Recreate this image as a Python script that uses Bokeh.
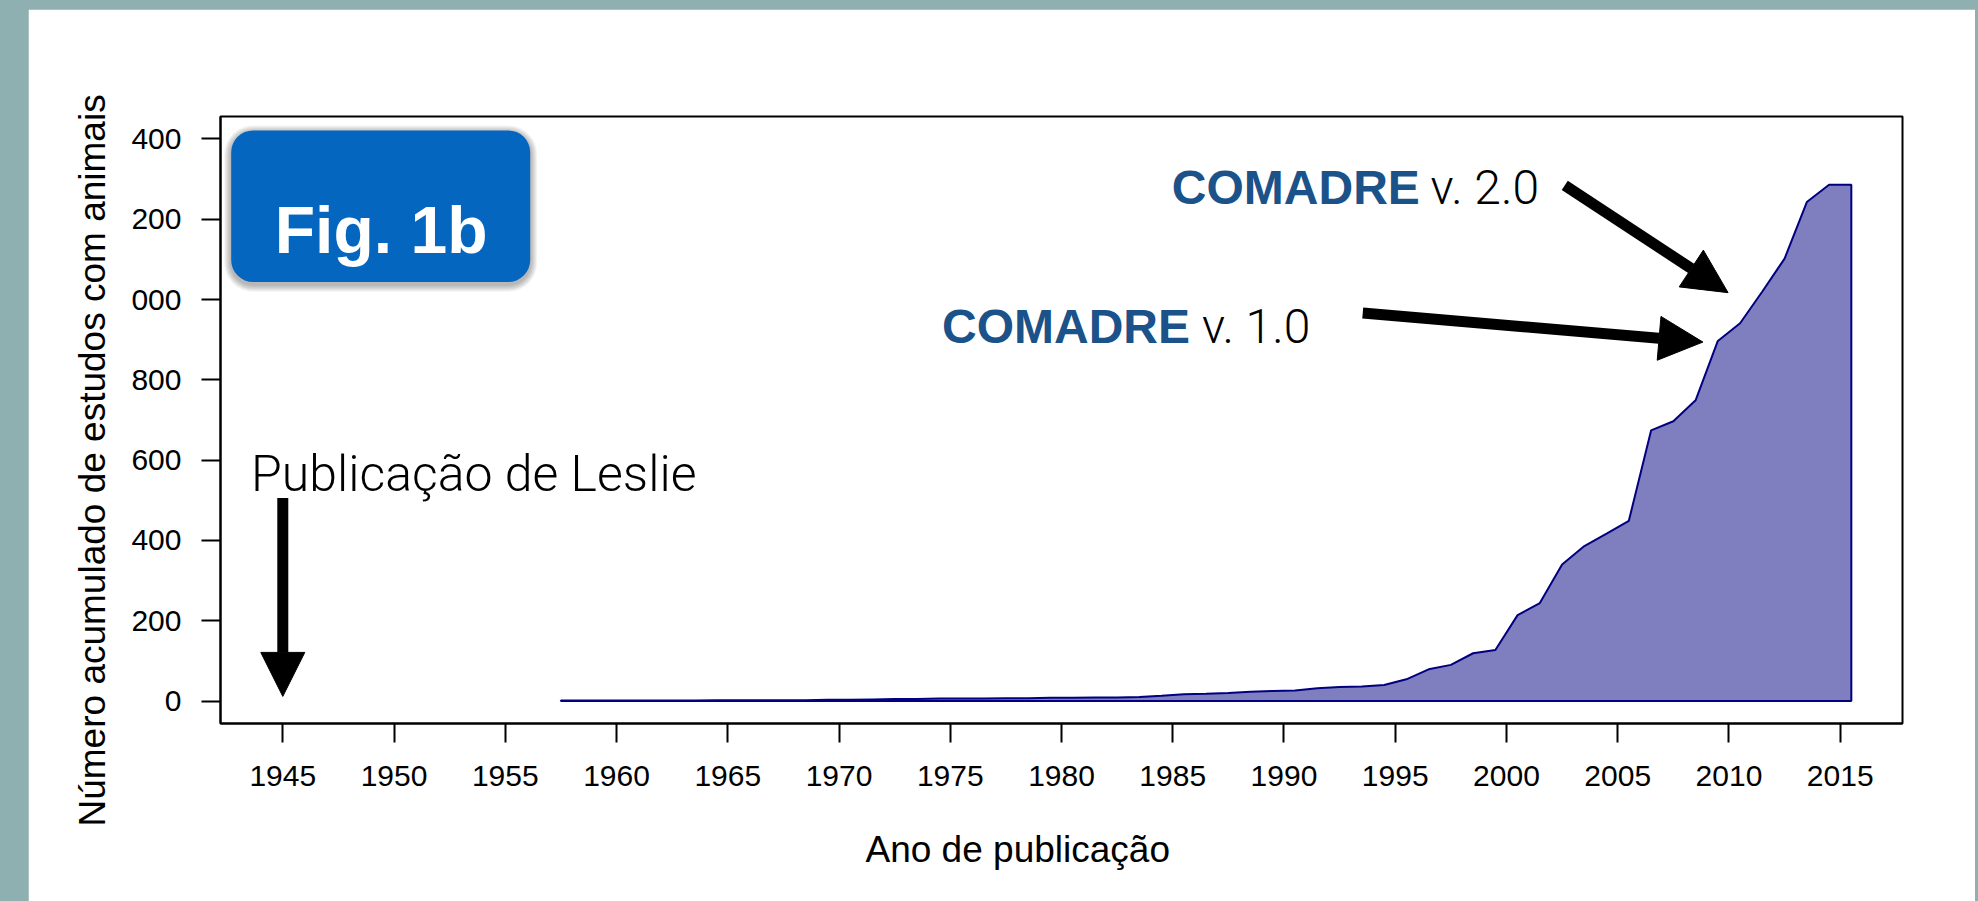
from math import pi
from bokeh.plotting import figure
from bokeh.models import (Label, Arrow, NormalHead, BoxAnnotation, Range1d, FixedTicker,
                          Title, Spacer)
from bokeh.layouts import row, column
from bokeh.embed import file_html
from bokeh.resources import INLINE

# ---- data: cumulative number of animal studies, by publication year ----
years = list(range(1957, 2016))
cumulative = [1, 1, 1, 1, 1, 1, 1, 2, 2, 2, 2, 2, 3, 3, 4, 5, 5, 6, 6, 6, 7, 7, 8, 8, 9, 9, 10,
              13, 17, 18, 20, 23, 25, 26, 32, 35, 36, 40, 54, 79, 90, 119, 127, 214, 244,
              340, 386, 417, 449, 674, 697, 749, 897, 941, 1020, 1102, 1243, 1286, 1286]
x_ticks = list(range(1945, 2016, 5))
y_ticks = [0, 200, 400, 600, 800, 1000, 1200, 1400]
y_tick_text = {1000: "000", 1200: "200", 1400: "400"}   # leading "1" cut off in the original

FONT = "Liberation Sans"
LIGHT = "Roboto Light"
PAGE_GREY = "#8EB0B0"

p = figure(frame_width=1682, frame_height=607, output_backend="svg", toolbar_location=None,
           title=None, x_range=Range1d(1942.2, 2017.8), y_range=Range1d(-56, 1456),
           min_border_left=192, min_border_right=73, min_border_top=107, min_border_bottom=178)
p.background_fill_color = "white"
p.border_fill_color = "white"
p.outline_line_color = "black"
p.outline_line_width = 2
p.grid.visible = False

for ax in (p.xaxis, p.yaxis):
    ax.axis_line_color = "black"
    ax.axis_line_width = 2
    ax.major_tick_line_color = "black"
    ax.major_tick_line_width = 2
    ax.major_tick_out = 19
    ax.major_tick_in = 0
    ax.minor_tick_line_color = None
    ax.major_label_text_font = FONT
    ax.major_label_text_font_size = "30px"
    ax.major_label_text_color = "black"

p.xaxis.ticker = FixedTicker(ticks=x_ticks)
p.yaxis.ticker = FixedTicker(ticks=y_ticks)
p.yaxis.major_label_overrides = y_tick_text
p.yaxis.major_label_orientation = "horizontal"
p.xaxis.major_label_standoff = 23
p.yaxis.major_label_standoff = 20

# area (counts plotted at mid-year)
xs = [y + 0.5 for y in years]
px = [xs[0]] + xs + [xs[-1]]
py = [0] + cumulative + [0]
p.patch(px, py, fill_color="navy", fill_alpha=0.5, line_color="navy", line_width=2)

# Fig. 1b badge with soft shadow
for i in range(7, 0, -1):
    dx = i * 1.0 / 22.25
    dy = i * 1.0 / 0.4015
    p.add_layout(BoxAnnotation(left=1942.68 - dx, right=1956.12 + dx,
                               bottom=1043.6 - dy - 7, top=1421.4 + dy - 5,
                               fill_color="#000000", fill_alpha=0.045, line_color=None,
                               border_radius=22 + i))
p.add_layout(BoxAnnotation(left=1942.68, right=1956.12, bottom=1043.6, top=1421.4,
                           fill_color="#0566C0", fill_alpha=1.0, line_color=None,
                           border_radius=22))
p.add_layout(Label(x=1949.42, y=1172.3, text="Fig. 1b", text_align="center",
                   text_baseline="alphabetic", text_font=FONT, text_font_style="bold",
                   text_font_size="66px", text_color="white"))

# annotations
p.add_layout(Label(x=1943.57, y=566.4, text="Publicação de Leslie", text_align="left",
                   text_baseline="alphabetic", text_font=LIGHT, text_font_size="50px",
                   text_color="black"))
p.add_layout(Label(x=1974.63, y=933.3, text="COMADRE", text_align="left",
                   text_baseline="alphabetic", text_font=FONT, text_font_style="bold",
                   text_font_size="48px", text_color="#1A5289"))
p.add_layout(Label(x=1986.31, y=933.3, text="v. 1.0", text_align="left",
                   text_baseline="alphabetic", text_font=LIGHT, text_font_size="48px",
                   text_color="black"))
p.add_layout(Label(x=1984.96, y=1280.2, text="COMADRE", text_align="left",
                   text_baseline="alphabetic", text_font=FONT, text_font_style="bold",
                   text_font_size="48px", text_color="#1A5289"))
p.add_layout(Label(x=1996.59, y=1280.2, text="v. 2.0", text_align="left",
                   text_baseline="alphabetic", text_font=LIGHT, text_font_size="48px",
                   text_color="black"))

for (x0, y0, x1, y1) in [(1945.0, 505.9, 1945.0, 11.5),
                         (1993.54, 966.4, 2008.83, 894.1),
                         (2002.62, 1284.4, 2009.96, 1017.2)]:
    p.add_layout(Arrow(x_start=x0, y_start=y0, x_end=x1, y_end=y1, line_width=11,
                       line_color="black",
                       end=NormalHead(size=44, fill_color="black", line_color="black", line_width=1)))

# axis titles (as side-panel titles so they can be offset like the original)
p.add_layout(Title(text="Ano de publicação", align="left", offset=645, vertical_align="top",
                   standoff=80, text_font=FONT, text_font_size="37px",
                   text_font_style="normal", text_color="black"), "below")
p.add_layout(Title(text="Número acumulado de estudos com animais", align="left", offset=-103,
                   vertical_align="bottom", standoff=32, text_font=FONT,
                   text_font_size="37px", text_font_style="normal", text_color="black"), "left")

page = column(
    Spacer(width=1978, height=9, styles={"background-color": PAGE_GREY}),
    row(Spacer(width=28, height=892, styles={"background-color": PAGE_GREY}),
        p,
        Spacer(width=3, height=892, styles={"background-color": PAGE_GREY})),
    styles={"background-color": PAGE_GREY})

open("out.html", "w").write(file_html(page, INLINE))
